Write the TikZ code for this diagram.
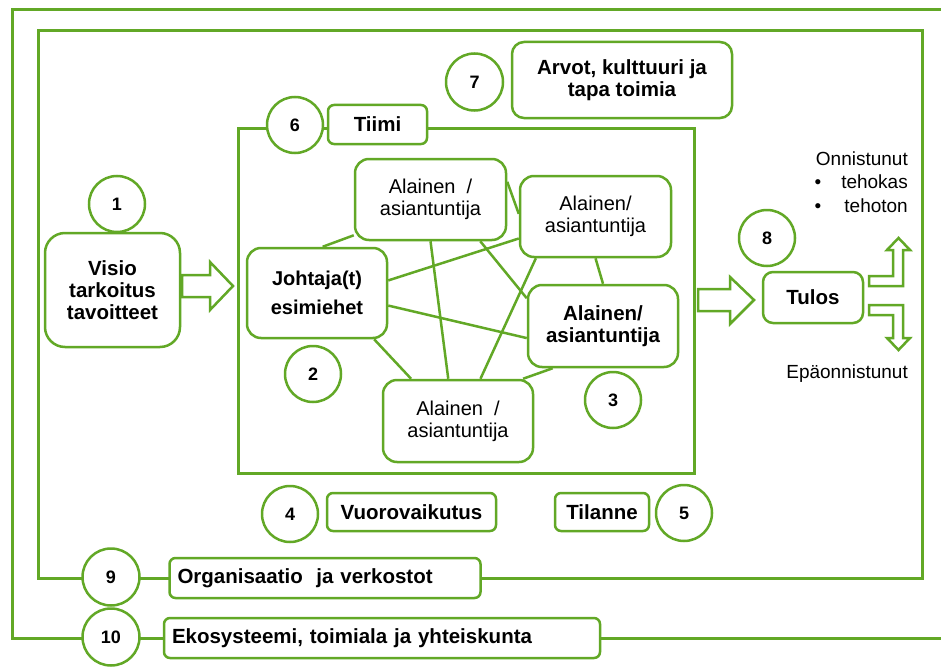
\documentclass[tikz,border=0pt]{standalone}
\usepackage{fontspec}
\setmainfont{Liberation Sans}
\usetikzlibrary{backgrounds}
\definecolor{gr}{RGB}{98,168,38}
\tikzset{
  frame/.style={draw=gr, line width=3pt},
  box/.style={draw=gr, line width=2.5pt, fill=white, align=center, inner sep=0pt, rounded corners=#1},
  box/.default=6pt,
  num/.style={circle, draw=gr, line width=2.5pt, fill=white, inner sep=0pt, minimum size=56pt,
              font=\bfseries\fontsize{18}{20}\selectfont},
  link/.style={draw=gr, line width=2.5pt},
  barrow/.style={draw=gr, line width=2.5pt, fill=white, line join=miter},
  big/.style={font=\bfseries\fontsize{20.5}{22}\selectfont},
  reg/.style={font=\fontsize{20}{22}\selectfont},
  note/.style={font=\fontsize{19}{22}\selectfont, inner sep=0pt},
}
\begin{document}
\begin{tikzpicture}[x=1pt, y=-1pt]
\clip (0,0) rectangle (941,666);

% nested frames: ecosystem, organisation, team
\draw[frame] (12,10) rectangle (980,638);
\draw[frame] (38,31) rectangle (922,578);
\draw[frame] (238,128) rectangle (694,473);

% vision box and team members
\node[box=20pt, big, minimum width=135pt, minimum height=114pt] (visio) at (112.5,290)
  {Visio\\tarkoitus\\tavoitteet};
\node[box=14pt, font=\bfseries\fontsize{20}{29}\selectfont, minimum width=140pt, minimum height=90pt]
  (johtaja) at (317,293) {Johtaja(t)\\esimiehet};
\node[box=14pt, reg, minimum width=151pt, minimum height=81pt] (a1) at (430.5,199.5)
  {Alainen~~/\\asiantuntija};
\node[box=14pt, reg, minimum width=151pt, minimum height=81pt] (a2) at (595.5,216.5)
  {Alainen/\\asiantuntija};
\node[box=14pt, big, minimum width=150pt, minimum height=82pt] (a3) at (603,326)
  {Alainen/\\asiantuntija};
\node[box=14pt, reg, minimum width=150pt, minimum height=82pt] (a4) at (458,421)
  {Alainen~~/\\asiantuntija};

% white page and the links between the team members, behind the boxes
\begin{pgfonlayer}{background}
\fill[white] (0,0) rectangle (941,666);
\draw[link] (johtaja.83) -- (a1.205);
\draw[link] (johtaja.10) -- (a2.196);
\draw[link] (johtaja.350) -- (a3.189);
\draw[link] (johtaja.321) -- (a4.138);
\draw[link] (a1.270) -- (a4.103);
\draw[link] (a1.320) -- (a3.160);
\draw[link] (a1.13) -- (a2.178);
\draw[link] (a2.215) -- (a4.62);
\draw[link] (a2.270) -- (a3.90);
\draw[link] (a3.220) -- (a4.33);
\end{pgfonlayer}

% labels of the frames and of the factors
\node[box=12pt, big, minimum width=220pt, minimum height=76pt] (arvot) at (622,80)
  {Arvot, kulttuuri ja\\tapa toimia};
\node[box, big, minimum width=99pt, minimum height=39pt] (tiimi) at (377.5,124.5) {Tiimi};
\node[box, big, minimum width=169pt, minimum height=38pt] (vuoro) at (411.5,512) {Vuorovaikutus};
\node[box, big, minimum width=94pt, minimum height=38pt] (tilanne) at (602,512) {Tilanne};
\node[box, big, minimum width=311pt, minimum height=40pt, text width=295pt, align=left]
  (org) at (325,578) {Organisaatio\ \ ja verkostot};
\node[box, big, minimum width=436pt, minimum height=40pt, text width=420pt, align=left]
  (eko) at (382,638) {Ekosysteemi, toimiala ja yhteiskunta};
\node[box=10pt, big, minimum width=100pt, minimum height=51pt] (tulos) at (813,297.5) {Tulos};

% numbered circles
\node[num] (n1) at (117,204) {1};
\node[num] (n2) at (313,374) {2};
\node[num] (n3) at (613,400) {3};
\node[num] (n4) at (290,514) {4};
\node[num] (n5) at (684,513) {5};
\node[num] (n6) at (295,125) {6};
\node[num, minimum size=57pt] (n7) at (474.5,82) {7};
\node[num] (n8) at (767,238) {8};
\node[num, minimum size=57pt] (n9) at (111,577) {9};
\node[num, minimum size=57pt] (n10) at (111,637) {10};

% block arrows
\draw[barrow] (182,275) -- (210,275) -- (210,262) -- (233,286) -- (210,310) -- (210,297)
  -- (182,297) -- cycle;
\draw[barrow] (698,289) -- (730,289) -- (730,277) -- (754,300) -- (730,324) -- (730,311)
  -- (698,311) -- cycle;
\draw[barrow] (869,276) -- (893,276) -- (893,250) -- (887,250) -- (898.5,238) -- (910,250)
  -- (903,250) -- (903,286) -- (869,286) -- cycle;
\draw[barrow] (869,305) -- (903,305) -- (903,338) -- (910,338) -- (898.5,350) -- (887,338)
  -- (893,338) -- (893,315) -- (869,315) -- cycle;

% outcomes
\node[note, anchor=base east] (onn) at (908,165) {Onnistunut};
\node[note, anchor=base east] (teh1) at (908,188) {tehokas};
\node[note, anchor=base east] (teh2) at (908,212) {tehoton};
\node[note, anchor=base] (b1) at (818,188) {•};
\node[note, anchor=base] (b2) at (818,212) {•};
\node[note, anchor=base east] (epa) at (908,378) {Epäonnistunut};
\end{tikzpicture}
\end{document}
